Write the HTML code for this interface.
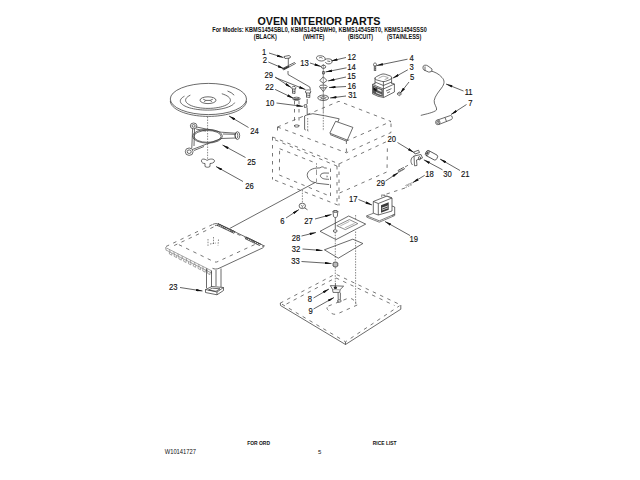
<!DOCTYPE html>
<html><head><meta charset="utf-8">
<style>
html,body{margin:0;padding:0;background:#fff;}
body{width:640px;height:480px;overflow:hidden;position:relative;}
svg{position:absolute;left:0;top:0;}
text{font-family:"Liberation Sans",sans-serif;fill:#111;}
.lb text{font-size:8.7px;stroke:#111;stroke-width:0.15;}
.s{fill:none;stroke:#3a3a3a;stroke-width:0.75;}
.d{fill:none;stroke:#4a4a4a;stroke-width:0.75;stroke-dasharray:3.5 4.5;}
.dd{fill:none;stroke:#555;stroke-width:0.7;stroke-dasharray:1.5 1.2;}
.ld{fill:none;stroke:#222;stroke-width:0.7;marker-end:url(#ar);}
</style></head>
<body>
<svg width="640" height="480" viewBox="0 0 640 480">
<defs>
<marker id="ar" viewBox="0 0 10 4" refX="10" refY="2" markerWidth="7" markerHeight="2.6" orient="auto" markerUnits="userSpaceOnUse">
<path d="M0,0 L10,2 L0,4 z" fill="#111"/>
</marker>
</defs>

<!-- HEADER -->
<text x="257.5" y="24.6" font-size="10.7" font-weight="bold" textLength="123" lengthAdjust="spacingAndGlyphs">OVEN INTERIOR PARTS</text>
<text x="212.3" y="32.3" font-size="7" font-weight="bold" textLength="214.5" lengthAdjust="spacingAndGlyphs">For Models: KBMS1454SBL0, KBMS1454SWH0, KBMS1454SBT0, KBMS1454SSS0</text>
<text x="253.8" y="39.2" font-size="6.3" font-weight="bold" textLength="23" lengthAdjust="spacingAndGlyphs">(BLACK)</text>
<text x="303.1" y="39.2" font-size="6.3" font-weight="bold" textLength="21.3" lengthAdjust="spacingAndGlyphs">(WHITE)</text>
<text x="348" y="39.2" font-size="6.3" font-weight="bold" textLength="25" lengthAdjust="spacingAndGlyphs">(BISCUIT)</text>
<text x="387" y="39.2" font-size="6.3" font-weight="bold" textLength="34.4" lengthAdjust="spacingAndGlyphs">(STAINLESS)</text>

<!-- FOOTER -->
<text x="247.2" y="444.6" font-size="5.2" font-weight="bold" textLength="22.8" lengthAdjust="spacingAndGlyphs">FOR ORD</text>
<text x="372.8" y="444.5" font-size="5.2" font-weight="bold" textLength="23.8" lengthAdjust="spacingAndGlyphs">RICE LIST</text>
<text x="164.7" y="454.2" font-size="6.3" textLength="31.3" lengthAdjust="spacingAndGlyphs">W10141727</text>
<text x="318" y="453.9" font-size="6">5</text>

<!-- LABELS -->
<g class="lb">
<text transform="matrix(0.88,0,0,1,262.10,54.50)">1</text>
<text transform="matrix(0.88,0,0,1,262.75,62.90)">2</text>
<text transform="matrix(0.88,0,0,1,264.50,78.10)">29</text>
<text transform="matrix(0.88,0,0,1,265.35,89.50)">22</text>
<text transform="matrix(0.88,0,0,1,265.70,106.20)">10</text>
<text transform="matrix(0.88,0,0,1,300.25,65.50)">13</text>
<text transform="matrix(0.88,0,0,1,347.50,59.90)">12</text>
<text transform="matrix(0.88,0,0,1,347.20,69.60)">14</text>
<text transform="matrix(0.88,0,0,1,347.30,79.25)">15</text>
<text transform="matrix(0.88,0,0,1,347.50,88.75)">16</text>
<text transform="matrix(0.88,0,0,1,348.25,98.00)">31</text>
<text transform="matrix(0.88,0,0,1,409.50,61.30)">4</text>
<text transform="matrix(0.88,0,0,1,409.40,70.30)">3</text>
<text transform="matrix(0.88,0,0,1,409.90,79.75)">5</text>
<text transform="matrix(0.88,0,0,1,464.65,95.15)">11</text>
<text transform="matrix(0.88,0,0,1,468.30,106.10)">7</text>
<text transform="matrix(0.88,0,0,1,250.25,133.95)">24</text>
<text transform="matrix(0.88,0,0,1,247.25,164.60)">25</text>
<text transform="matrix(0.88,0,0,1,245.20,189.00)">26</text>
<text transform="matrix(0.88,0,0,1,387.45,142.25)">20</text>
<text transform="matrix(0.88,0,0,1,376.45,185.80)">29</text>
<text transform="matrix(0.88,0,0,1,425.15,176.65)">18</text>
<text transform="matrix(0.88,0,0,1,443.30,176.65)">30</text>
<text transform="matrix(0.88,0,0,1,461.10,177.00)">21</text>
<text transform="matrix(0.88,0,0,1,349.10,201.60)">17</text>
<text transform="matrix(0.88,0,0,1,409.45,241.60)">19</text>
<text transform="matrix(0.88,0,0,1,280.20,223.70)">6</text>
<text transform="matrix(0.88,0,0,1,304.30,224.40)">27</text>
<text transform="matrix(0.88,0,0,1,291.85,241.10)">28</text>
<text transform="matrix(0.88,0,0,1,291.65,252.45)">32</text>
<text transform="matrix(0.88,0,0,1,291.20,264.10)">33</text>
<text transform="matrix(0.88,0,0,1,169.10,289.90)">23</text>
<text transform="matrix(0.88,0,0,1,307.80,302.20)">8</text>
<text transform="matrix(0.88,0,0,1,308.40,314.40)">9</text>
</g>

<!-- LEADERS -->
<g class="ld">
<path d="M269,53 L283.5,57.6"/>
<path d="M268.3,62 L284,68.7"/>
<path d="M310,63 L321,66.5"/>
<path d="M275,77 L291.2,87.6"/>
<path d="M275.5,77.6 L305.5,89.6"/>
<path d="M275.1,89.4 L293.5,98.3"/>
<path d="M276.5,103 L303,106.4"/>
<path d="M346,57.5 L331,61"/>
<path d="M346.5,67.8 L325.5,72"/>
<path d="M346,77 L328,81"/>
<path d="M346,86.5 L329,87.5"/>
<path d="M346,96 L330,98"/>
<path d="M407.5,59.2 L376.5,65.6"/>
<path d="M407.8,69.8 L392.7,78.2"/>
<path d="M409,82 L400,93.5"/>
<path d="M463.5,91 L446,84"/>
<path d="M466.5,104.5 L451,114.5"/>
<path d="M248.5,127.5 L229,116"/>
<path d="M245.5,157.5 L222.5,145"/>
<path d="M243,181.5 L216,166.5"/>
<path d="M397.5,142.5 L414,152.5"/>
<path d="M460,170.5 L440,159"/>
<path d="M442.5,169.8 L423.8,159.8"/>
<path d="M385.5,181 L398.5,172.5"/>
<path d="M424.7,175.3 L412.5,182.8"/>
<path d="M358.5,199.5 L372,205"/>
<path d="M410,235.5 L385,221.5"/>
<path d="M286,218 L299,209.5"/>
<path d="M315,219 L331.5,214.5"/>
<path d="M301.5,236 L316,232.5"/>
<path d="M302.5,249 L322.5,250.5"/>
<path d="M301.5,261.5 L331.5,263.5"/>
<path d="M180,287.5 L202.5,291"/>
<path d="M313.5,298 L329,289"/>
<path d="M313.5,309 L334,297.5"/>
</g>

<!-- DRAWING -->
<g id="drawing">
<!-- turntable 24 -->
<ellipse class="s" cx="208.4" cy="99" rx="38.1" ry="15.6"/>
<path class="s" d="M246.50,100.80 L246.38,102.02 L246.03,103.24 L245.45,104.44 L244.64,105.62 L243.60,106.77 L242.35,107.88 L240.89,108.95 L239.22,109.97 L237.37,110.93 L235.34,111.83 L233.14,112.66 L230.79,113.42 L228.31,114.10 L225.70,114.70 L222.98,115.21 L220.17,115.64 L217.29,115.97 L214.36,116.21 L211.39,116.35 L208.40,116.40 L205.41,116.35 L202.44,116.21 L199.51,115.97 L196.63,115.64 L193.82,115.21 L191.10,114.70 L188.49,114.10 L186.01,113.42 L183.66,112.66 L181.46,111.83 L179.43,110.93 L177.58,109.97 L175.91,108.95 L174.45,107.88 L173.20,106.77 L172.16,105.62 L171.35,104.44 L170.77,103.24 L170.42,102.02 L170.30,100.80"/>
<path class="s" d="M184.46,96.18 L183.28,96.88 L182.28,97.61 L181.48,98.36 L180.88,99.14 L180.49,99.93 L180.31,100.73 L180.35,101.53 L180.59,102.33 L181.05,103.12 L181.72,103.89 L182.58,104.64 L183.64,105.36 L184.89,106.04 L186.32,106.69 L187.91,107.29 L189.65,107.85 L191.54,108.35 L193.55,108.79 L195.67,109.18 L197.88,109.50 L200.17,109.75 L202.52,109.94 L204.91,110.05 L207.32,110.10 L209.73,110.07 L212.13,109.98 L214.49,109.82 L216.80,109.58 L219.04,109.28 L221.19,108.92 L223.24,108.50 L225.17,108.01 L226.96,107.47 L228.60,106.89 L230.08,106.25 L231.38,105.58 L232.50,104.87 L233.43,104.13 L234.16,103.36 L234.68,102.58"/>
<path class="s" d="M227.5,91 Q231.5,92.3 234.2,95.2"/>
<path class="s" d="M190.35,95.15 L188.85,95.95 L187.62,96.80 L186.67,97.70 L186.01,98.64 L185.66,99.59 L185.62,100.56 L185.89,101.52 L186.47,102.46 L187.34,103.37 L188.50,104.24 L189.94,105.05 L191.62,105.79 L193.53,106.46 L195.64,107.04 L197.92,107.52 L200.34,107.91 L202.87,108.18 L205.46,108.35 L208.10,108.40 L210.73,108.34 L213.32,108.17 L215.84,107.88 L218.26,107.49 L220.53,107.00 L222.62,106.41 L224.52,105.74 L226.18,104.99 L227.59,104.18 L228.73,103.30 L229.59,102.39 L230.14,101.45 L230.39,100.49 L230.32,99.52 L229.95,98.57 L229.27,97.63 L228.30,96.73 L227.05,95.89 L225.53,95.10 L223.77,94.38 L221.79,93.74"/>
<ellipse class="s" cx="208" cy="100.2" rx="8" ry="3.4"/>
<path class="s" d="M203.2,99.2 L205.8,100.4 L204.2,102 M212.8,99.2 L210.2,100.4 L211.8,102 M205.8,100.4 L210.2,100.4"/>
<path class="dd" d="M207.6,116.8 L207.6,160"/>
<!-- roller ring 25 -->
<ellipse class="s" cx="207.5" cy="136.2" rx="14.9" ry="6.9"/>
<ellipse class="s" cx="207.5" cy="136.4" rx="13.6" ry="5.9"/>
<ellipse class="s" cx="193.6" cy="125.9" rx="3.3" ry="2.9"/>
<ellipse class="s" cx="193.6" cy="125.9" rx="1.6" ry="1.3"/>
<ellipse class="s" cx="237.4" cy="135.6" rx="2.3" ry="3.9"/>
<ellipse class="s" cx="236.4" cy="135.6" rx="1.4" ry="2.8"/>
<ellipse class="s" cx="189.2" cy="151.7" rx="3.9" ry="3.7"/>
<ellipse class="s" cx="189.2" cy="151.7" rx="2" ry="1.8"/>
<path class="s" d="M196.6,127 L221.2,132.2 M196,129 L206,131 M192.6,128.7 L191.8,148 M194.5,129 L194,146 M192.6,149.4 L221.2,138.5 M194,150.5 L204,146.5 M221.2,132.2 L235.3,133.2 M221.2,138.5 L235.3,138 M223,134 L235,134.3"/>
<!-- coupler 26 -->
<path class="s" d="M201.5,161 C201,158.5 205,158.5 207,160.5 C209.5,158.5 214.5,158.5 214.5,161 C214.5,163 211,163.5 210,163.5 L210,166.5 C208.5,167.5 206.5,167.5 205,166.5 L205,163.5 C203.5,163.5 201.5,163 201.5,161 Z"/>

<!-- parts 1, 2 -->
<path class="s" d="M284,56.5 L289,55.5 L290.5,56.5 L290,58 L285,58.5 Z M288.3,58 L288.3,65.5"/>
<path class="s" d="M282.5,68.5 L294.5,62.5 L295.5,63.5 L283.5,70 Z"/>
<path d="M283,68.5 L288.5,65.8 L289.5,67 L284,69.8 Z" fill="#333"/>
<path class="s" d="M288,71 L288,74.5 L309.8,87 L310.4,90"/>
<!-- screws 29 -->
<path class="s" d="M291.8,87.5 C292,86 295.5,86 295.8,87.5 L295.5,89 L292,89 Z M292.5,89 L292.5,93.5 M295,89 L295,93.5 M292.5,91 L295,91.5 M292.5,93 L295,93.5"/>
<path class="s" d="M305.5,91 C305.8,89.5 310.5,89.5 310.8,91 L310.4,93 L305.8,93 Z M306.5,93 L306.5,97.5 M309.8,93 L309.8,97.5 M306.5,95 L309.8,95.5 M306.5,97 L309.8,97.5"/>
<!-- part 22 nut, 10 -->
<ellipse class="s" cx="296.5" cy="98.8" rx="3.8" ry="1.6"/>
<path d="M293.5,98.5 L299.5,98.2 L299,99.8 L294,100 Z" fill="#444"/>
<path class="s" d="M304,105 L306.5,104.5 L307,107 L304.5,107.5 Z"/>
<path class="d" d="M294.5,101 L294.5,126 M299,101 L299,126"/>
<ellipse class="s" cx="296.7" cy="126" rx="2.4" ry="1.1"/>
<path class="s" d="M307.2,99 L307.2,104 M307.2,107.5 L307.2,114"/>
<!-- stack 12-31 -->
<path class="s" d="M316.6,58.3 C316,56.3 318.5,55.5 321,55.8 C323.5,56 325.5,57.3 325.2,59.2 C325,60.8 322,61.3 319.8,60.8 C318,60.4 316.9,59.5 316.6,58.3 Z M319,58.2 C319.5,57.3 321.5,57.2 322.5,58.3"/>
<path class="s" d="M325,59.5 C326.5,58.6 329.5,58.5 331.5,59.6 C333,60.6 332.5,62.8 330.5,63.6 C328.5,64.4 326,63.7 325.3,62.2 M327.3,61 L330.2,61.5"/>
<path class="s" d="M323.3,64 L323.3,112" style="stroke:#777"/>
<ellipse class="s" cx="323.5" cy="66.8" rx="2.2" ry="1.6"/>
<path class="s" d="M322.6,71.5 L324.4,71.5 L324.4,74 L322.6,74 Z"/>
<path class="s" d="M323.3,76.8 L327,80.5 L323.3,83.3 L319.8,80.5 Z"/>
<ellipse class="s" cx="323.3" cy="86.5" rx="3.8" ry="1.5"/>
<path class="s" d="M320,87.5 L323.3,91.5 L326.5,87.5"/>
<ellipse class="s" cx="323.2" cy="97.8" rx="5.4" ry="2.7"/>
<ellipse class="s" cx="323.2" cy="97.8" rx="2.2" ry="1.1"/><path class="s" d="M318.5,96.5 L321.2,97.4 M325.2,97.4 L328,96.8 M320,99.7 L321.6,98.6 M325,98.7 L326.6,99.8" style="stroke:#777"/>

<!-- magnetron 3 -->
<path class="s" d="M373.5,64.5 C373.5,62.5 376.5,62.5 376.5,64.5 L376,66 L374,66 Z M374.3,66 L374.3,71 M375.7,66 L375.7,71 M374.3,68 L375.7,68.5 M374.3,70 L375.7,70.5"/>
<path class="s" d="M375,78.6 Q375,77.4 376.4,76.7 L380.8,74.5 Q383,73.5 385.2,74.2 L390.2,75.9 Q391.8,76.5 391.6,77.8 Q391.4,79 390,79.6 L385.6,81.3 Q383.5,82 381.5,81.3 L376.4,79.8 Q375,79.4 375,78.6 Z"/>
<path class="s" d="M378.5,78.3 L382.2,76.4 Q383.2,76 384.4,76.4 L388.3,77.6 M384.6,79.6 L388.3,78.1" style="stroke:#888"/>
<path class="s" d="M375,77.6 L375,84.4 M391.6,77.6 L391.6,83.8 M383.4,81.2 L383.4,97.5 M375,82 L383.4,85.5 L391.6,82"/>
<path class="s" d="M372.5,84.4 L375,83.4 M391.6,83 L394.4,84 L394.4,92 L383.7,97.5 L378,96.3 L372.5,93.8 L372.5,84.4 L383.4,89 L394.4,84"/>
<path d="M373,85.6 L382.8,89.6 L382.8,96.8 L378,95.6 L373,93.2 Z" fill="#555"/>
<path d="M377.5,88.5 L381.5,90.2 L381.5,92 L377.5,90.3 Z M376,92 L381.5,94.3 L381.5,95.3 L376,93 Z M374.2,87.2 L375.8,87.9 L375.8,89.2 L374.2,88.5 Z" fill="#e8e8e8"/>
<path d="M373.5,87.6 L376.5,88.8 L376.5,91.2 L373.5,90 Z" fill="#111"/>
<path class="s" d="M386,91 L391.5,88.6 M387,93 L390,91.7"/>
<path class="s" d="M397,94 L399,91.8 L401.5,93.8 L399.5,95.8 Z M398.2,93 L400.3,94.6"/>

<!-- wire 11 -->
<path class="s" d="M423,67 C423,65 426,64.5 428,66 L432,69 C432.5,71 430.5,72.5 428.5,72 L424,70 C423,69.5 423,68.5 423,67 Z M425,66.5 L425,70.8"/>
<path class="s" d="M431,71 C435,72 439,74 442,77.5 C445,80.5 444.5,84 441.5,88 C438.5,92 435,96 434.2,100.5 C433.5,104 437.5,107.5 436.5,110 C434,112.5 426,114 420.8,115.4"/>
<!-- fuse 7 -->
<path class="s" d="M437.5,120 L450.5,115.5 C452.5,115.5 453,118.5 451.5,119.5 L438.8,124.5"/>
<ellipse class="s" cx="437.8" cy="122.3" rx="2.2" ry="2.4"/>
<ellipse class="s" cx="437.8" cy="122.3" rx="1" ry="1.1"/>
<path class="s" d="M445,117.5 L446.5,121.5"/>

<!-- cabinet: upper slab -->
<path class="d" d="M277.5,127 L339,101.3 L391,121.5 L346.4,141"/>
<path class="d" d="M277.5,127 L346.4,152.8 L391,132.5 L391,121.5 M346.4,140.5 L346.4,152.8 M277.5,127 L277.5,131"/>
<!-- mica / waveguide cover -->
<path class="s" d="M304.6,129.5 L304.6,116 L306,115.2 L312.8,113.7 L324.4,115.7 L339.2,118.8 L337.8,122"/>
<path class="dd" d="M307.7,118 L307.7,130.5 M304.6,129.5 L308.5,131"/>
<path class="s" d="M335.6,121.3 L352.9,127.4 L347.3,140.1 L329.8,133.2 L335.6,121.3"/>
<path class="s" d="M330,134.5 L346.5,141.2"/>
<path class="dd" d="M323.3,112 L323.3,131"/>
<!-- lower box -->
<path class="d" d="M272.5,137 L339,163.9 L387.4,141.2 M272.5,137 L272.5,179.5 M275,180.2 L339,205.5 M339.5,193 L387,171.9 L387.4,146.5 M339,163.5 L339,205.5 M337,166 L337,204"/>
<path class="d" d="M275,139.8 L337,166.1"/>
<path class="d" d="M279.6,148.7 L316,163.2 M330.5,168.5 L330.5,196.4 L279.4,175.1 L279.6,148.7"/>
<!-- motor coupling semicircle -->
<path class="s" d="M316.5,168.1 C310.5,168.6 306.8,172 307.3,175.6 C307.8,179.5 311.5,182.3 316,182.6"/>
<path class="s" d="M316.5,168.1 L320,167.9 C321.5,166.5 323,166.5 324.5,167.9 L326.8,168.1 M316.2,183.2 L329.2,184.6"/>
<path class="s" d="M316.5,169.5 L316.5,175 M316.5,178.5 L316.5,182.5" style="stroke:#777"/>
<path class="s" d="M329,173.1 L324,173 C321,173.3 320,175 320.5,176.3 C321.5,178.5 324,179.3 329,179.3"/>
<path class="s" d="M326.4,176 L327.8,177 M327.8,176 L326.4,177" style="stroke:#777"/>
<path class="dd" d="M316.5,163.2 L316.5,167.5"/>
<!-- long line to tray -->
<path class="s" d="M230,228.3 L315.1,182.5"/>
<!-- part 6 -->
<path class="dd" d="M302.4,190 L302.4,203"/>
<ellipse class="s" cx="302.3" cy="205.9" rx="3.2" ry="2.7"/>
<path class="s" d="M300.8,205 L302.3,206.3 L303.8,205 M302.3,206.3 L302.3,208" style="stroke:#666"/>
<path class="s" d="M304.5,207.8 L307.5,209.8"/>
<!-- part 20, 30, 21 -->
<path class="s" d="M413.8,152 L418.5,150.2 L419.5,152.5 L415,154 Z"/>
<path class="s" d="M414,156 C410.5,158 410,162 412.5,165 M414,156 L421,154.5 L422.5,158 L416.5,160 L417,165.5 L414.5,165.8 Z"/>
<ellipse class="s" cx="419.5" cy="158.2" rx="1.1" ry="1.6"/>
<g transform="translate(427.3,153) rotate(28.5)">
<path class="s" d="M0,-2.8 L9.5,-2.8 A1.6,2.8 0 0 1 9.5,2.8 L0,2.8"/>
<ellipse class="s" cx="0" cy="0" rx="1.6" ry="2.8"/>
<ellipse cx="0" cy="0" rx="1" ry="2" fill="#555"/>
</g>
<!-- screw 29 right and 18 -->
<path class="s" d="M398,170.5 L403.5,167.5 L404.5,169 L399,172 Z M399.5,169.5 L400.5,171 M401.5,168.5 L402.5,170"/>
<path class="d" d="M405,167 L411,163.5"/>
<path class="dd" d="M405.5,185.5 L412.5,182.5 M405.5,187.5 L412.5,184.5 M407.5,184.5 L408,186.8 M410,183.4 L410.5,185.7"/>
<path class="d" d="M405,188 L383.5,195"/>
<!-- 17 transformer, 19 plate -->
<path class="s" d="M373.3,201.5 L378.3,203.5 L378.3,215 L373.3,213.2 Z M378.3,203.5 L392,198 L392,211 L378.3,215 M373.3,201.5 L387,196 L392,198"/>
<path class="s" d="M381.7,197.2 L381.7,194.8 L392,197.8 M384.5,196.2 L384,194.2" style="stroke:#666"/>
<path d="M381,205.2 L388.7,202.2 L388.7,209.8 L381,212.8 Z" fill="#3a3a3a"/>
<path d="M381.8,207.8 L388,205.4 L388,206.3 L381.8,208.7 Z M381.8,209.8 L388,207.4 L388,208.2 L381.8,210.6 Z" fill="#eee"/>
<path class="s" d="M392,206 L394.7,207 L394.7,214.5 L392.2,215.5"/>
<path class="s" d="M373.3,213.3 L366.7,215.8 L379.3,220.8 L394.7,214.2 M366.7,215.8 L366.8,217.2 L379.3,222.2 L394.7,215.6 L394.7,214.2" style="stroke:#555"/>
<!-- 27, 28, 32, 33 -->
<path class="s" d="M333,211.5 C333,210.5 337.8,210.5 337.8,211.5 L337.3,216.5 C336.5,217.8 334.3,217.8 333.5,216.5 Z"/>
<ellipse class="s" cx="335.4" cy="211.5" rx="2.4" ry="0.9"/>
<path class="s" d="M335.3,217.5 L335.3,229"/>
<path class="s" d="M320,231.3 L348.7,216 L365.7,224.1 L336,239.6 Z"/>
<path class="s" d="M336.8,225.7 L349.3,219.6 L357.8,223.6 L345.3,229.6 Z" style="stroke:#666"/><path class="s" d="M340.3,225.9 L349.4,221.4 M344.8,227.9 L354.5,223.4" style="stroke:#999"/>
<ellipse class="s" cx="335.2" cy="231" rx="1.9" ry="1.3"/>
<path class="dd" d="M335.3,232 L335.3,283"/>
<path class="s" d="M324.4,249.8 L352.8,239.2 L362.9,243.5 L338.3,258.2 Z"/>
<path class="s" d="M333,263 C333,261.8 337.8,261.8 337.8,263 L337.8,266 C337,267.2 333.8,267.2 333,266 Z" style="fill:#bbb"/>
<path class="dd" d="M355.6,215 L355.6,220 M355.6,231.5 L355.6,304.5"/>

<!-- tray 23 -->
<path class="s" d="M213,224.3 C215,223.4 217,223.4 219,224.3 L262.5,245 C264.3,246 264.3,247 262.5,248 L219,268.3 C216.8,269.3 214.5,269.3 212.5,268.3"/>
<path class="d" d="M212.5,224.5 L166,246.5 M213.5,227 L170,247.5"/>
<path class="d" d="M178.9,244.7 L213.5,261.5 C215,262.3 216.5,262.3 218,261.5 L257,243.5 M255,242 L219,226 C217,225.2 215.5,225.3 214,226"/>
<path class="s" d="M165.5,247.5 L211,270.5 M166,250 L211.5,273 M165.5,247.5 L166.1,250.3 M169.6,249.6 L170.2,252.4 M173.8,251.7 L174.4,254.5 M177.9,253.8 L178.5,256.6 M182.0,255.9 L182.6,258.7 M186.2,258.0 L186.8,260.8 M190.3,260.0 L190.9,262.8 M194.5,262.1 L195.1,264.9 M198.6,264.2 L199.2,267.0 M202.7,266.3 L203.3,269.1 M206.9,268.4 L207.5,271.2 M211.0,270.5 L211.6,273.3" style="stroke:#777;stroke-width:0.65"/>
<path class="s" d="M169.4,252.0 l0,2 l2.4,1.2 l0,-2 M174.2,254.4 l0,2 l2.4,1.2 l0,-2 M178.9,256.9 l0,2 l2.4,1.2 l0,-2 M183.7,259.3 l0,2 l2.4,1.2 l0,-2 M188.5,261.7 l0,2 l2.4,1.2 l0,-2 M193.3,264.1 l0,2 l2.4,1.2 l0,-2 M198.1,266.5 l0,2 l2.4,1.2 l0,-2 M202.8,269.0 l0,2 l2.4,1.2 l0,-2 M207.6,271.4 l0,2 l2.4,1.2 l0,-2" style="stroke:#777;stroke-width:0.65"/>
<path class="s" d="M217,225.2 L234,233.3 M218,223.6 L235,231.7 M217.5,225.4 L218.5,223.4 M219.3,226.3 L220.3,224.3 M221.2,227.2 L222.2,225.2 M223.0,228.0 L224.0,226.0 M224.8,228.9 L225.8,226.9 M226.7,229.8 L227.7,227.8 M228.5,230.7 L229.5,228.7 M230.3,231.5 L231.3,229.5 M232.2,232.4 L233.2,230.4 M234.0,233.3 L235.0,231.3"/>
<path class="s" d="M245,238.6 L259.5,245.5 M246,237 L260.5,244 M245.5,239.0 L246.5,237.0 M247.2,239.8 L248.2,237.8 M249.0,240.7 L250.0,238.7 M250.8,241.5 L251.8,239.5 M252.5,242.3 L253.5,240.3 M254.2,243.2 L255.2,241.2 M256.0,244.0 L257.0,242.0 M257.8,244.9 L258.8,242.9 M259.5,245.7 L260.5,243.7"/>
<path class="dd" d="M213.5,237 L213.5,245 M208,239 L208,247 M218.5,239.5 L218,245.5 M210,244 L216,243"/>
<path class="s" d="M262,246.3 L264.5,245.5"/>
<!-- leg -->
<path class="s" d="M206.5,268.5 L206.5,288 M211.5,270.5 L211.5,287 M216,270 L216,286 M221,268.5 L221,287"/>
<path class="s" d="M205.5,289.5 L212,286.5 L223.5,287.5 L223.5,290.5 L217,294.8 L205.5,292.5 Z M208.5,290 L212.5,288.2 L220,288.8 L216,291.3 Z M205.5,289.5 L217,292 L223.5,287.5 M217,292 L217,294.8"/>

<!-- bottom plate -->
<path class="s" d="M280.3,303 L280.5,305.5 L345.5,344.5 L400.8,309.2 L400.8,305"/>
<path class="s" d="M345.5,344.5 L345.5,342"/>
<path class="d" d="M282,304.2 L345.5,341.8 L399.5,305.8"/>
<path class="d" d="M280.1,303.2 L335.5,274 L400.8,305"/>
<path class="d" d="M286.5,304 L335.7,277.8 L394.5,305.5"/>
<path class="dd" d="M355.8,304 L355.8,301"/>
<!-- 8, 9 -->
<path class="s" d="M330.3,285.6 L343.6,286.2 L340.2,289.5 L339.6,292.4 L333,292.4 L332.5,289.2 Z"/>
<path class="s" d="M333.2,289.6 L339.8,289.8" style="stroke:#888"/>
<ellipse cx="335.4" cy="287.8" rx="1.7" ry="1.2" fill="#222"/>
<path class="s" d="M335.4,283 L335.4,287"/>
<path class="s" d="M338.1,292.6 L338.2,299.8 M340.4,292.6 L340.3,299.8"/>
<ellipse class="s" cx="339.3" cy="301" rx="1.9" ry="1.2"/>
<path class="d" d="M328.5,306 L347,298.7 C349,298 351.5,298.3 353,299.5 L357.2,303.5 M357.2,305 L338.2,313.5 C336,314.8 333,314.5 331,313 L327.5,309.5 C326.5,308.2 327,306.8 328.5,306"/>
</g>
</svg>
</body></html>
